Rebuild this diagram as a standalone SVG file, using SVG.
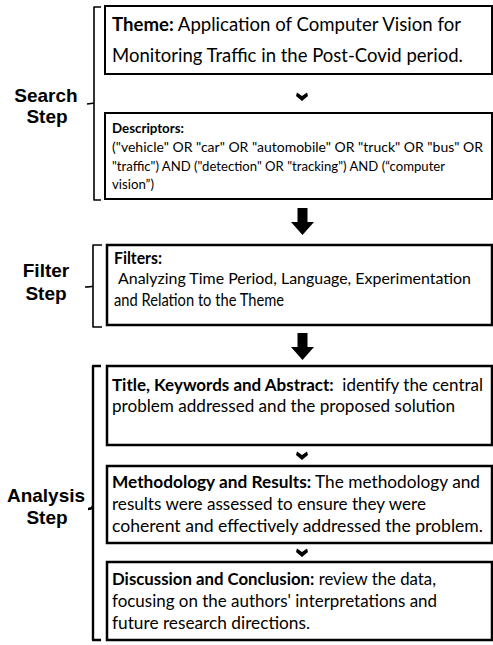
<svg xmlns="http://www.w3.org/2000/svg" width="493" height="645" viewBox="0 0 493 645">
<style>
.box{fill:#fff;stroke:#000;stroke-width:2.5}
.box2{fill:#fff;stroke:#000;stroke-width:2}
.t{font-family:Lato,"Open Sans",sans-serif;font-size:17px;fill:#000}
.th{font-family:Lato,"Open Sans",sans-serif;font-size:19.5px;fill:#000}
.d{font-family:Lato,"Open Sans",sans-serif;font-size:13.8px;fill:#000}
.b{font-weight:bold}
.lab{font-family:"Liberation Sans",Arial,sans-serif;font-size:19px;font-weight:bold;fill:#000;text-anchor:middle}
.br{fill:none;stroke:#000;stroke-width:1.6;stroke-linejoin:round}
.br2{fill:none;stroke:#000;stroke-width:2.4;stroke-linejoin:round}
.arr{fill:#000}
</style>
<g id="search-step">
<path class="br" d="M101,7 H94 V200 H101 M94,103 Q92,103.5 87,104"/>
<text class="lab" x="46" y="102">Search</text>
<text class="lab" x="47" y="123">Step</text>
</g>
<g id="filter-step">
<path class="br" d="M102,245 H93 V327 H102 M93,286 Q91,287 85,287"/>
<text class="lab" x="46" y="277">Filter</text>
<text class="lab" x="46" y="300">Step</text>
</g>
<g id="analysis-step">
<path class="br2" d="M101,366 H93 V640 H101 M93,506 Q92,509 88,509"/>
<text class="lab" x="46" y="502">Analysis</text>
<text class="lab" x="47" y="524">Step</text>
</g>
<g id="theme">
<rect class="box2" x="105" y="6" width="387" height="68"/>
<text class="th" x="112" y="31" textLength="349" lengthAdjust="spacingAndGlyphs"><tspan class="b">Theme:</tspan> Application of Computer Vision for</text>
<text class="th" x="112" y="62" textLength="351" lengthAdjust="spacingAndGlyphs">Monitoring Traffic in the Post-Covid period.</text>
</g>
<g id="descriptors">
<rect class="box2" x="105" y="113" width="387" height="86"/>
<text class="d b" x="112" y="133" textLength="72" lengthAdjust="spacingAndGlyphs">Descriptors:</text>
<text class="d" x="112" y="152" textLength="371" lengthAdjust="spacingAndGlyphs">("vehicle" OR "car" OR "automobile" OR "truck" OR "bus" OR</text>
<text class="d" x="112" y="171" textLength="333" lengthAdjust="spacingAndGlyphs">"traffic") AND ("detection" OR "tracking") AND (“computer</text>
<text class="d" x="112" y="189" textLength="42" lengthAdjust="spacingAndGlyphs">vision”)</text>
</g>
<g id="filters">
<rect class="box" x="107" y="245" width="385" height="80"/>
<text class="t b" x="114" y="264" textLength="48" lengthAdjust="spacingAndGlyphs">Filters:</text>
<text class="t" x="118" y="284" textLength="353" lengthAdjust="spacingAndGlyphs" style="font-size:16px">Analyzing Time Period, Language, Experimentation</text>
<text class="t" x="114" y="306" textLength="170" lengthAdjust="spacingAndGlyphs">and Relation to the Theme</text>
</g>
<g id="title-keywords-abstract">
<rect class="box" x="107" y="366" width="385" height="79"/>
<text class="t" x="112" y="391" textLength="371" lengthAdjust="spacingAndGlyphs" xml:space="preserve"><tspan class="b">Title, Keywords and Abstract:</tspan>  identify the central</text>
<text class="t" x="112" y="412" textLength="343" lengthAdjust="spacingAndGlyphs">problem addressed and the proposed solution</text>
</g>
<g id="methodology-results">
<rect class="box" x="107" y="466" width="385" height="77"/>
<text class="t" x="112" y="488" textLength="368" lengthAdjust="spacingAndGlyphs"><tspan class="b">Methodology and Results:</tspan> The methodology and</text>
<text class="t" x="112" y="510" textLength="314" lengthAdjust="spacingAndGlyphs">results were assessed to ensure they were</text>
<text class="t" x="112" y="532" textLength="371" lengthAdjust="spacingAndGlyphs">coherent and effectively addressed the problem.</text>
</g>
<g id="discussion-conclusion">
<rect class="box" x="107" y="562" width="385" height="78"/>
<text class="t" x="112" y="585" textLength="324" lengthAdjust="spacingAndGlyphs"><tspan class="b">Discussion and Conclusion:</tspan> review the data,</text>
<text class="t" x="112" y="607" textLength="325" lengthAdjust="spacingAndGlyphs">focusing on the authors' interpretations and</text>
<text class="t" x="112" y="629" textLength="198" lengthAdjust="spacingAndGlyphs">future research directions.</text>
</g>
<g id="connectors">
<path class="arr" d="M297,92.5 L302,96 L307,92.5 L308,96 L302,101 L296,96 Z"/>
<path class="arr" d="M297.5,208 H307.5 V222 H314 L302.5,235 L291,222 H297.5 Z"/>
<path class="arr" d="M297.5,333 H307.5 V347 H314 L302.5,360 L291,347 H297.5 Z"/>
<path class="arr" d="M297,451.5 L302,455 L307,451.5 L308,455 L302,460 L296,455 Z"/>
<path class="arr" d="M297,548.5 L302,552 L307,548.5 L308,552 L302,557 L296,552 Z"/>
</g>
</svg>
